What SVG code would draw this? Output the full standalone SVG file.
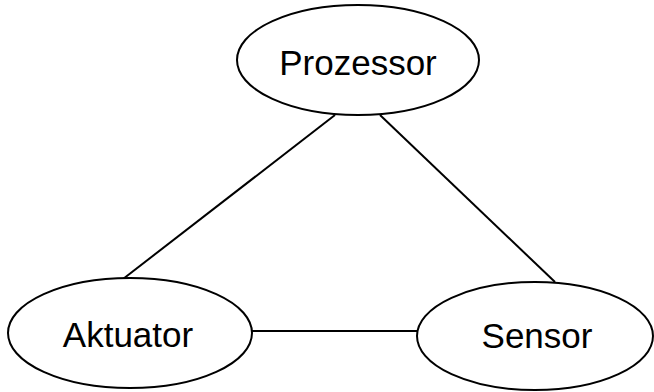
<svg xmlns="http://www.w3.org/2000/svg" width="654" height="392" viewBox="0 0 654 392">
<style>
.n{fill:#fff;stroke:#000;stroke-width:2}
.t{font-family:"Liberation Sans",Arial,sans-serif;font-size:35px;text-anchor:middle;fill:#000}
.c{stroke:#000;stroke-width:2;fill:none}
</style>
<rect width="654" height="392" fill="#fff"/>
<g id="connectors">
<line class="c" x1="335" y1="115" x2="123" y2="279"/>
<line class="c" x1="380" y1="115" x2="555" y2="282"/>
<line class="c" x1="252" y1="331" x2="417" y2="331"/>
</g>
<g id="prozessor">
<ellipse class="n" cx="358" cy="60" rx="121" ry="55"/>
<text class="t" x="358" y="75">Prozessor</text>
</g>
<g id="aktuator">
<ellipse class="n" cx="130" cy="333" rx="122" ry="55"/>
<text class="t" x="128" y="347">Aktuator</text>
</g>
<g id="sensor">
<ellipse class="n" cx="535" cy="336" rx="118" ry="54"/>
<text class="t" x="537" y="348">Sensor</text>
</g>
</svg>
